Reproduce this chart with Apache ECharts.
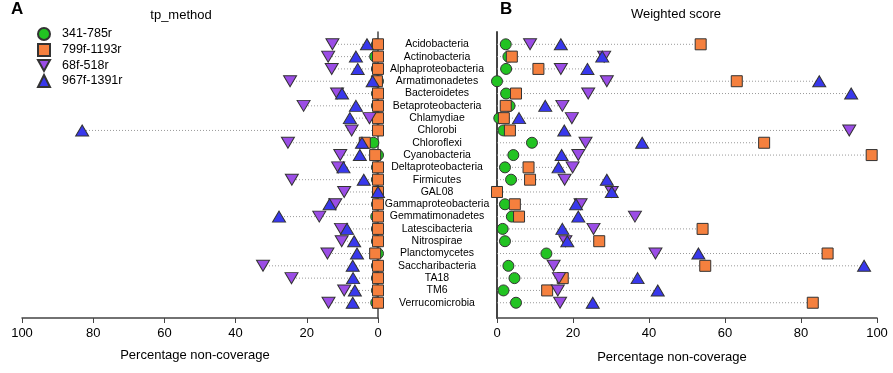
<!DOCTYPE html>
<html>
<head>
<meta charset="utf-8">
<script src="https://cdn.jsdelivr.net/npm/echarts@6/dist/echarts.min.js"></script>
<style>
html, body { margin: 0; padding: 0; background: #fff; }
#chart { width: 893px; height: 373px; }
</style>
</head>
<body>
<div id="chart"></div>
<script>
// phyla, top to bottom
const phyla = ['Acidobacteria', 'Actinobacteria', 'Alphaproteobacteria', 'Armatimonadetes', 'Bacteroidetes',
	'Betaproteobacteria', 'Chlamydiae', 'Chlorobi', 'Chloroflexi', 'Cyanobacteria', 'Deltaproteobacteria',
	'Firmicutes', 'GAL08', 'Gammaproteobacteria', 'Gemmatimonadetes', 'Latescibacteria', 'Nitrospirae',
	'Planctomycetes', 'Saccharibacteria', 'TA18', 'TM6', 'Verrucomicrobia']
const primers = ['341-785r', '799f-1193r', '68f-518r', '967f-1391r']

// A: tp_method
const tpGreen = [0.3, 0.8, 0.3, 0, 0.3, 0.3, 0, 0, 1.3, 0, 0.3, 0.3, 0, 0.3, 0.5, 0.3, 0.3, 0, 0.3, 0.3, 0.3, 0.5]
const tpOrange = [0, 0, 0, 0.3, 0, 0, 0, 0, 3.7, 0.8, 0, 0, 0, 0, 0, 0, 0, 0.8, 0, 0, 0, 0]
const tpPurple = [12.8, 14.0, 13.0, 24.7, 11.5, 20.9, 2.4, 7.4, 25.3, 10.6, 11.2, 24.2, 9.5, 12.0, 16.5, 10.4, 10.2, 14.2, 32.3, 24.3, 9.5, 13.9]
const tpBlue = [3.1, 6.2, 5.7, 1.5, 10.1, 6.2, 7.9, 83.1, 4.5, 5.1, 9.7, 4.0, 0, 13.6, 27.8, 8.7, 6.7, 5.9, 7.1, 7.0, 6.5, 7.1]

// B: weighted score
const wsGreen = [2.3, 3.0, 2.4, 0, 2.4, 3.3, 0.6, 1.7, 9.2, 4.3, 2.1, 3.7, 0, 2.1, 3.9, 1.5, 2.1, 13.0, 3.0, 4.6, 1.7, 5.0]
const wsOrange = [53.6, 3.9, 10.9, 63.1, 5.0, 2.3, 1.8, 3.4, 70.3, 98.6, 8.3, 8.7, 0, 4.7, 5.8, 54.1, 26.9, 87.0, 54.8, 17.3, 13.2, 83.1]
const wsPurple = [8.7, 28.2, 16.8, 28.9, 24.0, 17.2, 19.7, 92.7, 23.3, 21.4, 19.9, 17.8, 30.2, 22.0, 36.3, 25.4, 18.0, 41.7, 14.9, 16.3, 16.0, 16.6]
const wsBlue = [16.8, 27.7, 23.8, 84.8, 93.2, 12.7, 5.8, 17.7, 38.2, 17.0, 16.2, 28.9, 30.2, 20.8, 21.4, 17.2, 18.5, 53.0, 96.6, 37.0, 42.3, 25.2]

const colors = ['#22c322', '#f5803e', '#9b4de6', '#3838ec']
const symbols = ['circle', 'rect', 'path://M0,0L2,0L1,1.8Z', 'triangle']
const sizes = [11, 11, [13, 11], [13, 11]]
const font = 'Liberation Sans, Arial, sans-serif'

const chart = echarts.init(document.getElementById('chart'))

function pts(arr) {
	return arr.map((v, i) => [v, i])
}

function markers(sets, idx) {
	return sets.map((arr, k) => ({
		name: primers[k],
		type: 'scatter',
		xAxisIndex: idx,
		yAxisIndex: idx,
		symbol: symbols[k],
		symbolSize: sizes[k],
		itemStyle: { color: colors[k], borderColor: '#333', borderWidth: 1, opacity: 1 },
		z: 3 + k,
		data: pts(arr)
	}))
}

// dotted guide from the axis to the farthest marker of each row
function guides(sets, idx) {
	const far = phyla.map((p, i) => Math.max(...sets.map(a => a[i])))
	return {
		type: 'custom',
		xAxisIndex: idx,
		yAxisIndex: idx,
		silent: true,
		z: 1,
		data: pts(far),
		renderItem(params, api) {
			const a = api.coord([0, api.value(1)])
			const b = api.coord([api.value(0), api.value(1)])
			return {
				type: 'line',
				shape: { x1: a[0], y1: a[1], x2: b[0], y2: b[1] },
				style: { stroke: '#9a9a9a', lineWidth: 1, lineDash: [1, 2] }
			}
		}
	}
}

const tpSets = [tpGreen, tpOrange, tpPurple, tpBlue]
const wsSets = [wsGreen, wsOrange, wsPurple, wsBlue]

function xAxis(idx, inverse) {
	return {
		type: 'value',
		gridIndex: idx,
		position: 'bottom',
		min: 0,
		max: 100,
		interval: 20,
		inverse: inverse,
		axisLine: { onZero: false, lineStyle: { color: '#444', width: 1.5 } },
		axisTick: { length: 5, lineStyle: { color: '#444' } },
		axisLabel: { color: '#000', fontSize: 13, margin: 9, fontFamily: font },
		splitLine: { show: false }
	}
}

const nameStyle = { fontSize: 13, fontWeight: 'normal', color: '#000', fontFamily: font }

chart.setOption({
	animation: false,
	title: [
		{ text: 'A', left: 11, top: 1, padding: 0, textStyle: { fontSize: 17, fontWeight: 'bold', color: '#000', fontFamily: font } },
		{ text: 'B', left: 500, top: 1, padding: 0, textStyle: { fontSize: 17, fontWeight: 'bold', color: '#000', fontFamily: font } },
		{ text: 'tp_method', left: 181, textAlign: 'center', top: 9, padding: 0, textStyle: nameStyle },
		{ text: 'Weighted score', left: 676, textAlign: 'center', top: 8, padding: 0, textStyle: nameStyle },
		{ text: 'Percentage non-coverage', left: 195, textAlign: 'center', top: 349, padding: 0, textStyle: nameStyle },
		{ text: 'Percentage non-coverage', left: 672, textAlign: 'center', top: 351, padding: 0, textStyle: nameStyle }
	],
	legend: {
		data: primers,
		orient: 'vertical',
		left: 37,
		top: 27,
		padding: 0,
		itemWidth: 12,
		itemHeight: 12,
		itemGap: 2,
		textStyle: { fontSize: 12.5, color: '#000', fontFamily: font, padding: [0, 0, 0, 7] }
	},
	grid: [
		{ left: 22, width: 356, top: 32, height: 286 },
		{ left: 497, width: 380, top: 32, height: 286 }
	],
	xAxis: [xAxis(0, true), xAxis(1, false)],
	yAxis: [
		{
			type: 'value',
			gridIndex: 0,
			position: 'right',
			inverse: true,
			min: -1,
			max: 22.24,
			interval: 1,
			axisLine: { show: true, onZero: false, lineStyle: { color: '#444', width: 1.5 } },
			axisTick: { show: false },
			splitLine: { show: false },
			axisLabel: {
				color: '#000',
				fontSize: 10.5,
				fontFamily: font,
				align: 'center',
				margin: 59,
				formatter: v => phyla[v] || ''
			}
		},
		{
			type: 'value',
			gridIndex: 1,
			position: 'left',
			inverse: true,
			min: -1,
			max: 22.24,
			interval: 1,
			axisLine: { show: true, onZero: false, lineStyle: { color: '#444', width: 2 } },
			axisTick: { show: false },
			splitLine: { show: false },
			axisLabel: { show: false }
		}
	],
	series: [
		guides(tpSets, 0),
		guides(wsSets, 1),
		...markers(tpSets, 0),
		...markers(wsSets, 1)
	]
})
</script>
</body>
</html>
